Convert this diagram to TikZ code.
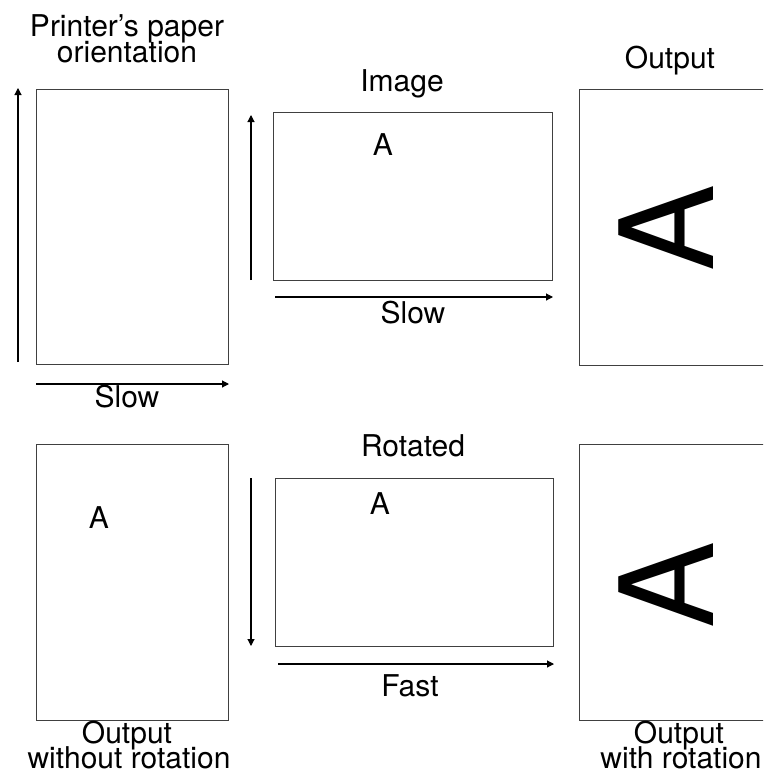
\documentclass[tikz,border=0pt]{standalone}
\usepackage{fontspec}
\setmainfont{TeX Gyre Heros}
\usetikzlibrary{arrows.meta}
\begin{document}
\begin{tikzpicture}[x=1pt,y=-1pt,
  paper/.style={draw=black!75,line width=1pt},
  axis/.style={draw=black,line width=1.1pt,-{Triangle[length=7pt,width=7pt]}},
  lbl/.style={font=\fontsize{30}{36}\selectfont,anchor=base,inner sep=0pt},
  bigA/.style={font=\fontsize{130}{150}\selectfont,rotate=90,inner sep=0pt,anchor=center}]
\useasboundingbox (0,0) rectangle (763,776);
\begin{scope}
\clip (0,0) rectangle (763,776);
% boxes
\draw[paper] (36,89) rectangle (228,364);
\draw[paper] (273,112) rectangle (552,280);
\draw[paper] (579,89) rectangle (800,365);
\draw[paper] (36,444) rectangle (228,720);
\draw[paper] (275,478) rectangle (553,646);
\draw[paper] (579,444) rectangle (800,720);
\end{scope}
% axes
\coordinate (a1s) at (18,362); \coordinate (a1e) at (18,88);
\coordinate (a2s) at (36,384); \coordinate (a2e) at (229,384);
\coordinate (a3s) at (251,280); \coordinate (a3e) at (251,115);
\coordinate (a4s) at (275,297); \coordinate (a4e) at (553,297);
\coordinate (a5s) at (251,478); \coordinate (a5e) at (251,646);
\coordinate (a6s) at (278,664); \coordinate (a6e) at (554,664);
\draw[axis] (a1s) -- (a1e);
\draw[axis] (a2s) -- (a2e);
\draw[axis] (a3s) -- (a3e);
\draw[axis] (a4s) -- (a4e);
\draw[axis] (a5s) -- (a5e);
\draw[axis] (a6s) -- (a6e);
% labels
\node[lbl] (t1) at (127,37) {Printer’s paper};
\node[lbl] (t2) at (127,63) {orientation};
\node[lbl] (t3) at (127,407) {Slow};
\node[lbl] (t4) at (402,91) {Image};
\node[lbl] (t5) at (383,155) {A};
\node[lbl] (t6) at (413,323) {Slow};
\node[lbl] (t7) at (670,68) {Output};
\node[lbl] (t8) at (413,456) {Rotated};
\node[lbl] (t9) at (380,514) {A};
\node[lbl] (t10) at (410,696) {Fast};
\node[lbl] (t11) at (99,528) {A};
\node[lbl] (t12) at (127,743) {Output};
\node[lbl] (t13) at (129,768) {without rotation};
\node[lbl] (t14) at (679,743) {Output};
\node[lbl] (t15) at (681,768) {with rotation};
\node[bigA] (A1) at (666,228) {A};
\node[bigA] (A2) at (666,585) {A};
\end{tikzpicture}
\end{document}
